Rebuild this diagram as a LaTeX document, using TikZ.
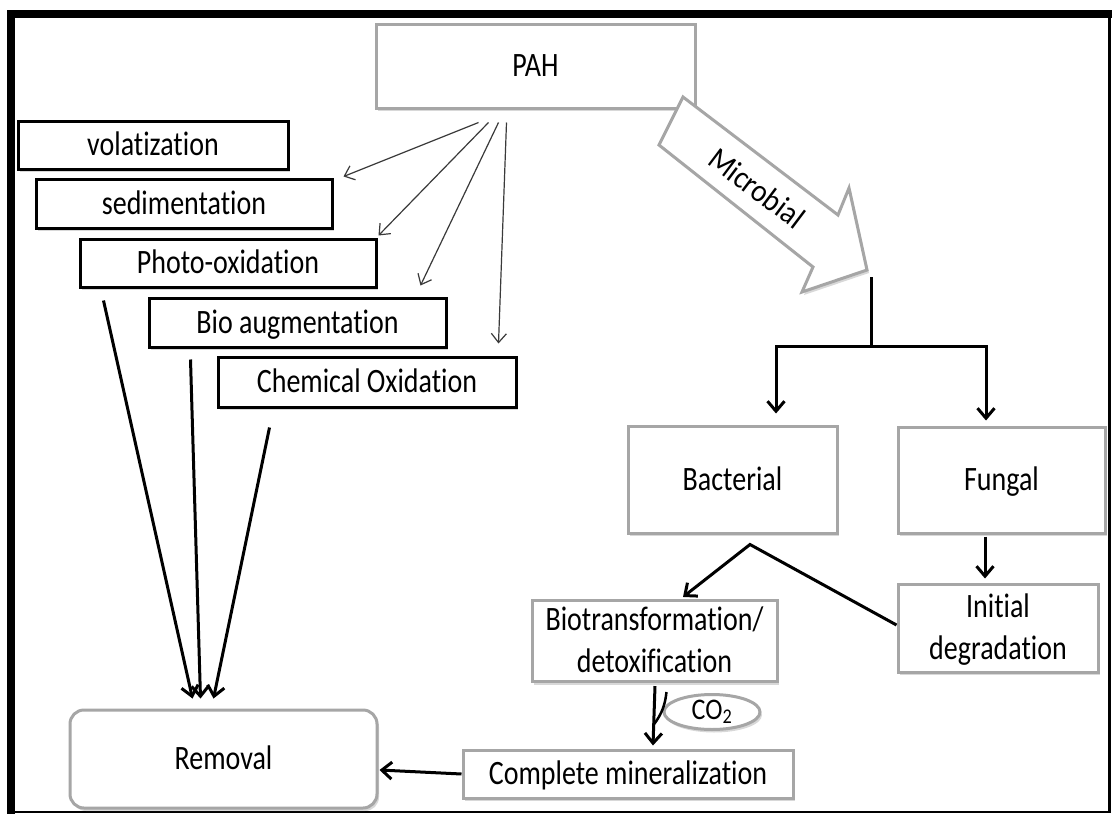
\documentclass[tikz,border=0pt]{standalone}
\usepackage{fontspec}
\setmainfont{Carlito}[Ligatures=NoCommon]
\usepackage{tikz}
\usetikzlibrary{arrows.meta, positioning, calc, shadows, shapes.geometric}
\definecolor{ash}{HTML}{A6A6A6}
\definecolor{graphite}{HTML}{3A3A3A}
\newcommand{\vtxt}[1]{\scalebox{1}[1.22]{\rule[-7pt]{0pt}{32pt}#1}}

\begin{document}
\begin{tikzpicture}[
    x=1pt, y=-1pt,
    every node/.style={font=\fontsize{28}{42}\selectfont, inner sep=0pt, align=center},
    softshadow/.style={drop shadow={opacity=0.3, shadow xshift=2pt, shadow yshift=-3pt}},
    procbox/.style={rectangle, draw=black, line width=3pt, fill=white, minimum height=49pt, softshadow},
    stagebox/.style={rectangle, draw=ash, line width=3pt, fill=white, softshadow},
    thinflow/.style={-{Straight Barb[length=9pt, width=15pt]}, line width=1.2pt, color=graphite},
    flowarrow/.style={-{Straight Barb[length=10pt, width=17pt]}, line width=3pt},
    flowline/.style={line width=3pt},
  ]
  \fill[white] (0,0) rectangle (1112,814);
  \useasboundingbox (0,0) rectangle (1112,814);

  % frame
  \draw[line width=8pt] (11,814) -- (11,14) -- (1112,14);
  \draw[line width=3pt] (1109,14) -- (1109,813);
  \draw[line width=2pt] (11,812) -- (1109,812);

  % PAH and physical / chemical routes
  \node[stagebox, minimum width=319pt, minimum height=84pt] (pah) at (535.5,66) {\vtxt{PAH}};
  \node[procbox, minimum width=270pt, minimum height=48pt] (vol) at (153,145) {\vtxt{volatization}};
  \node[procbox, minimum width=296pt] (sed) at (184,203.5) {\vtxt{sedimentation}};
  \node[procbox, minimum width=296pt, minimum height=48pt] (photo) at (228,263) {\vtxt{Photo-oxidation}};
  \node[procbox, minimum width=297pt] (bio) at (297.5,322.5) {\vtxt{Bio augmentation}};
  \node[procbox, minimum width=298pt, minimum height=50pt] (chem) at (367,382) {\vtxt{Chemical Oxidation}};
  \node[stagebox, rounded corners=14pt, minimum width=307pt, minimum height=98pt] (rem) at (223.5,759) {\vtxt{Removal}};

  % microbial route
  \draw[draw=ash, line width=3pt, fill=white, softshadow] (683,97) -- (838,215) -- (849,188) -- (867,270)
    -- (802,292) -- (813,267) -- (659,145) -- cycle;
  \node[rotate=-37, font=\fontsize{29}{34}\selectfont] (mic) at (757,188) {\scalebox{1}[1.1]{Microbial}};
  \node[stagebox, minimum width=209pt, minimum height=107pt] (bact) at (732.5,479.5) {\vtxt{Bacterial}};
  \node[stagebox, minimum width=207pt, minimum height=106pt] (fung) at (1001.5,480) {\vtxt{Fungal}};
  \node[stagebox, minimum width=200pt, minimum height=88pt] (init) at (998,628) {\vtxt{Initial}\\\vtxt{degradation}};
  \node[stagebox, minimum width=245pt, minimum height=78pt] (btr) at (654.5,641) {\vtxt{Biotransformation/}\\\vtxt{detoxification}};
  \node[stagebox, minimum width=330pt, minimum height=48pt] (cmin) at (628,774) {\vtxt{Complete mineralization}};
  \node[stagebox, ellipse, minimum width=96pt, minimum height=35pt, font=\fontsize{26}{30}\selectfont] (co2) at (712,712) {\scalebox{1}[1.15]{CO\textsubscript{2}}};

  \draw[thinflow] ($(pah.south)+(-57,13)$) -- ($(sed.north east)+(10,-1)$);
  \draw[thinflow] ($(pah.south)+(-47,13)$) -- ($(photo.north east)+(1,-2)$);
  \draw[thinflow] ($(pah.south)+(-37,13)$) -- ($(bio.north east)+(-27,-11)$);
  \draw[thinflow] ($(pah.south)+(-29,13)$) -- ($(chem.north east)+(-19,-12)$);

  \draw[flowarrow] ($(photo.south west)+(25,12)$) -- ($(rem.north)+(-31,-10)$);
  \draw[flowarrow] ($(bio.south west)+(43,11)$) -- ($(rem.north)+(-23,-10)$);
  \draw[flowarrow] ($(chem.south west)+(53,19)$) -- ($(rem.north)+(-10,-10)$);

  \coordinate (mtip) at (871,277);
  \coordinate (split) at (871,346);
  \draw[flowline] (mtip) -- (split);
  \draw[flowarrow] (split) -| ($(bact.north)+(43.5,-11)$);
  \draw[flowarrow] (split) -| ($(fung.north)+(-15.5,-5)$);

  \coordinate (fork) at ($(bact.south)+(17.5,10)$);
  \draw[flowarrow] ($(init.west)+(0,-3)$) -- (fork) -- ($(btr.north)+(28.5,-2)$);
  \draw[flowarrow] ($(fung.south)+(-16.5,2)$) -- ($(init.north)+(-13,-4)$);
  \draw[flowarrow] ($(btr.south)+(0.5,3)$) -- ($(cmin.north)+(25,-3)$);
  \draw[line width=2.5pt] ($(co2.west)+(4,-20)$) to[bend left=15] ($(co2.west)+(-9,13)$);
  \draw[flowarrow] (cmin.west) -- ($(rem.east)+(1,11)$);
\end{tikzpicture}
\end{document}
